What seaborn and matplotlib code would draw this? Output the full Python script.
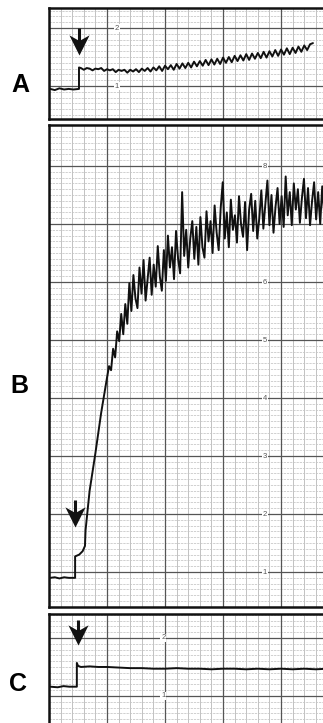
import matplotlib
matplotlib.use("Agg")
import matplotlib.pyplot as plt
import numpy as np
import seaborn as sns
from matplotlib.path import Path

# ---- trace A (chart units: x = major divisions, y = recorder scale) ----
a_base_x = [0.02, 0.10, 0.18, 0.26, 0.34, 0.42, 0.517, 0.517]
a_base_y = [0.95, 0.93, 0.96, 0.94, 0.95, 0.94, 0.95, 1.32]
a_noise_y = [1.31, 1.28, 1.31, 1.30, 1.27, 1.30, 1.29, 1.31, 1.26, 1.29,
             1.27, 1.29, 1.24, 1.28, 1.26, 1.28, 1.23, 1.28, 1.25, 1.29,
             1.24, 1.30, 1.26, 1.31, 1.25, 1.32, 1.27, 1.34, 1.26, 1.35,
             1.29, 1.36, 1.28, 1.38, 1.30, 1.39, 1.31, 1.40, 1.32, 1.42,
             1.34, 1.43, 1.35, 1.45, 1.36, 1.46, 1.37, 1.47, 1.38, 1.49,
             1.40, 1.50, 1.41, 1.52, 1.43, 1.53, 1.44, 1.55, 1.45, 1.56,
             1.47, 1.57, 1.48, 1.59, 1.49, 1.60, 1.51, 1.62, 1.52, 1.63,
             1.54, 1.65, 1.55, 1.66, 1.57, 1.68, 1.59, 1.70, 1.62, 1.72,
             1.74]
a_noise_start, a_noise_step = 0.55, 0.05

# ---- trace B ----
b_base_x = [0.02, 0.10, 0.18, 0.26, 0.34, 0.45, 0.45, 0.52, 0.58, 0.62,
            0.63, 0.70, 0.80, 0.90]
b_base_y = [0.90, 0.91, 0.89, 0.91, 0.90, 0.90, 1.27, 1.30, 1.36, 1.45,
            1.72, 2.40, 3.05, 3.75]
b_noise_y = [4.35, 4.55, 4.48, 4.85, 4.70, 5.15, 4.98, 5.45, 5.10, 5.62,
             5.28, 5.98, 5.50, 6.12, 5.72, 5.55, 6.25, 5.80, 6.38, 5.68,
             6.05, 6.42, 5.78, 6.30, 5.92, 6.62, 6.10, 5.85, 6.55, 6.02,
             6.80, 6.25, 6.60, 6.05, 6.88, 6.40, 6.15, 7.55, 6.45, 6.90,
             6.25, 6.75, 7.05, 6.40, 6.95, 6.30, 7.12, 6.60, 6.42, 7.22,
             6.70, 7.05, 6.50, 7.32, 6.85, 6.55, 7.28, 7.72, 6.75, 7.20,
             6.60, 7.42, 6.90, 7.15, 6.68, 7.48, 7.00, 6.78, 7.38, 6.55,
             7.25, 7.52, 6.88, 7.40, 6.75, 7.10, 7.58, 6.92, 7.35, 7.75,
             6.98, 7.50, 6.85, 7.30, 7.62, 7.00, 7.48, 6.95, 7.82, 7.15,
             7.55, 6.98, 7.70, 7.25, 7.60, 7.02, 7.45, 7.78, 7.10, 7.62,
             6.98, 7.40, 7.72, 7.08, 7.55, 7.00, 7.65, 7.15]
b_noise_start, b_noise_step = 1.0, 0.035

# ---- trace C ----
c_x = [0.02, 0.15, 0.25, 0.35, 0.48, 0.48, 0.50, 0.55, 0.70, 0.85, 1.00,
       1.20, 1.40, 1.60, 1.80, 2.00, 2.20, 2.40, 2.60, 2.80, 3.00, 3.20,
       3.40, 3.60, 3.80, 4.00, 4.20, 4.40, 4.60, 4.80, 5.00]
c_y = [1.16, 1.15, 1.17, 1.16, 1.16, 1.57, 1.52, 1.50, 1.51, 1.50, 1.50,
       1.49, 1.48, 1.48, 1.47, 1.47, 1.48, 1.47, 1.47, 1.46, 1.47, 1.47,
       1.46, 1.47, 1.46, 1.47, 1.46, 1.47, 1.46, 1.47, 1.46]

# arrows (x, tip, tail) and scale digits per panel
arrow_x = [0.52, 0.45, 0.50]
arrow_tip = [1.53, 1.78, 1.88]
arrow_tail = [2.00, 2.24, 2.31]
scale_x = [1.17, 3.72, 1.97]
scale_vals = [[1, 2], [1, 2, 3, 4, 5, 6, 8], [1, 2]]
panel_names = ["A", "B", "C"]
ylims = [(0.431, 2.345), (0.397, 8.707), (0.241, 2.414)]

sns.set_style("white")
plt.rcParams["font.family"] = ["Liberation Sans", "DejaVu Sans"]

fig = plt.figure(figsize=(3.23, 7.23), dpi=100)
rects = [[0.1517, 0.8354, 0.898, 0.1535],
         [0.1517, 0.1604, 0.898, 0.6667],
         [0.1517, -0.0235, 0.898, 0.1743]]
label_pos = [(20 / 323, 1 - 85 / 723), (19 / 323, 1 - 386 / 723),
             (18 / 323, 1 - 684 / 723)]

# swept arrow head, tip at origin
head = Path([(0, 0), (-0.5, 1.0), (0, 0.72), (0.5, 1.0), (0, 0)],
            [Path.MOVETO, Path.LINETO, Path.LINETO, Path.LINETO,
             Path.CLOSEPOLY])

# chart paper rulings
x_major = list(range(6))
y_major = list(range(10))
x_minor = [k / 5 for k in range(26) if k % 5]
y_minor = [k / 10 for k in range(91) if k % 10]


def trace(base_x, base_y, start, step, noise):
    nx = start + step * np.arange(len(noise))
    return (np.concatenate([base_x, nx]), np.concatenate([base_y, noise]))


traces = [trace(a_base_x, a_base_y, a_noise_start, a_noise_step, a_noise_y),
          trace(b_base_x, b_base_y, b_noise_start, b_noise_step, b_noise_y),
          (np.array(c_x), np.array(c_y))]

for i in range(3):
    ax = fig.add_axes(rects[i])
    ax.set_xticks(x_minor, minor=True)
    ax.set_yticks(y_minor, minor=True)
    ax.set_xticks([])
    ax.set_yticks([])
    ax.xaxis.grid(which="minor", color="#b8b8b8", linewidth=0.6)
    ax.yaxis.grid(which="minor", color="#c4c4c4", linewidth=0.55,
                  linestyle=(0, (3, 1.2)))
    ax.set_axisbelow(True)
    # major rulings drawn above the fine ones
    for v in x_major:
        ax.axvline(v, color="#555555", linewidth=0.9, zorder=0.8)
    for v in y_major:
        ax.axhline(v, color="#555555", linewidth=0.9, zorder=0.8)
    ax.tick_params(which="both", length=0, labelbottom=False,
                   labelleft=False)
    for s in ax.spines.values():
        s.set_color("#111111")
        s.set_linewidth(1.8)

    x, y = traces[i]
    sns.lineplot(x=x, y=y, ax=ax, color="#111111", linewidth=1.4,
                 estimator=None, sort=False)

    for v in scale_vals[i]:
        ax.text(scale_x[i], v, str(v), fontsize=5.5, color="#555555",
                ha="center", va="center",
                bbox=dict(boxstyle="square,pad=0.1", fc="white", ec="none"))

    ax.plot([arrow_x[i], arrow_x[i]], [arrow_tail[i], arrow_tip[i] + 0.1],
            color="#111111", linewidth=2.2, solid_capstyle="butt")
    ax.plot(arrow_x[i], arrow_tip[i], marker=head, markersize=29,
            color="#111111", markeredgewidth=0, linestyle="none")

    # limits last, after the rulings have been placed
    ax.set_xlim(0, 5.0)
    ax.set_ylim(*ylims[i])

    fig.text(label_pos[i][0], label_pos[i][1], panel_names[i], fontsize=18,
             fontweight="bold", color="black", ha="center", va="center")

fig.savefig("out.png", dpi=100)
